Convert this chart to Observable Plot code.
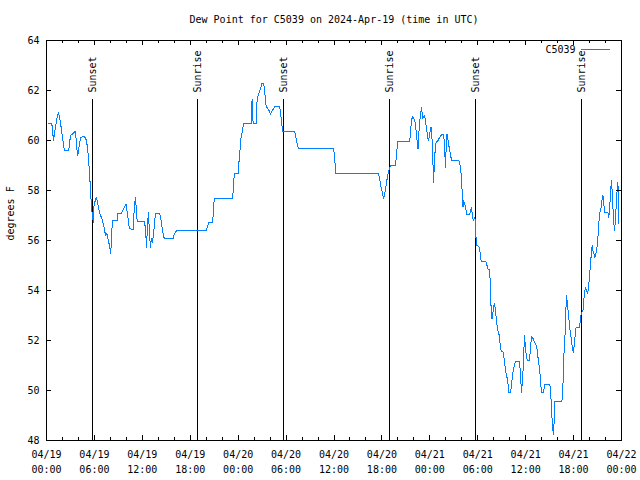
<!DOCTYPE html>
<html>
<head>
<meta charset="utf-8">
<script src="https://cdn.jsdelivr.net/npm/d3@7"></script>
<script src="https://cdn.jsdelivr.net/npm/@observablehq/plot@0.6"></script>
<style>
  html, body { margin: 0; padding: 0; background: white; }
</style>
</head>
<body>
<div id="chart"></div>
<script>
const title = "Dew Point for C5039 on 2024-Apr-19 (time in UTC)";
const yLabel = "degrees F";
const seriesName = "C5039";
const startUTC = Date.UTC(2024, 3, 19, 0, 0);

// hours since 2024-04-19 00:00 UTC
const hours = [0.25,0.66,0.88,1.06,1.25,1.50,1.75,1.91,2.09,2.25,2.79,3.00,3.29,3.63,3.79,3.92,4.26,4.76,5.01,5.17,5.29,5.42,5.51,5.63,5.76,5.85,5.92,6.10,6.26,6.42,6.60,6.76,6.92,7.10,7.26,7.38,7.55,7.67,7.88,8.05,8.17,8.30,8.85,8.89,9.42,9.76,9.96,10.16,10.37,10.85,11.01,11.14,11.26,11.35,12.29,12.43,12.52,12.68,12.77,12.89,13.02,13.14,13.27,13.43,13.64,14.18,14.36,14.52,14.68,14.81,15.86,16.02,16.27,19.99,20.11,20.31,20.81,20.94,21.06,23.32,23.44,23.56,24.06,24.11,24.24,24.37,24.49,24.69,25.62,25.66,25.78,25.87,26.28,26.37,26.57,26.78,26.99,27.19,27.37,27.50,27.87,28.04,28.29,28.57,29.20,29.32,29.45,29.57,31.08,31.38,31.54,35.96,36.08,36.21,41.59,41.71,41.89,42.05,42.22,42.39,42.55,42.72,42.89,43.05,43.68,43.80,43.97,45.47,45.56,45.68,45.81,45.97,46.15,46.27,46.52,46.65,46.81,46.97,47.10,47.35,47.47,47.60,47.72,47.85,47.97,48.15,48.27,48.40,48.47,48.60,48.72,49.02,49.22,49.52,49.72,49.81,49.90,49.97,50.06,50.15,50.35,50.48,50.60,50.73,51.65,51.78,51.90,51.98,52.07,52.15,52.23,52.35,52.48,52.60,52.98,53.10,53.23,53.35,53.48,53.60,53.73,53.78,53.85,54.10,54.23,54.32,54.44,55.03,55.16,55.32,55.48,55.57,55.66,55.78,55.91,56.07,56.20,56.32,56.45,56.57,56.70,56.82,56.95,57.16,57.28,57.41,57.53,57.66,57.78,57.91,58.11,58.24,58.41,58.57,58.74,59.24,59.36,59.49,59.57,59.66,59.79,59.86,59.95,60.08,60.20,60.49,60.61,60.74,60.91,61.08,61.24,61.41,61.54,61.66,61.79,61.91,61.99,62.24,62.37,63.04,63.17,63.24,63.33,63.42,63.49,63.58,63.67,64.54,64.67,64.74,64.87,64.96,65.04,65.12,65.21,65.33,65.46,65.58,65.71,65.83,65.96,66.08,66.21,66.30,66.71,66.83,66.92,67.05,67.17,67.25,67.37,67.50,67.62,67.75,67.87,68.00,68.12,68.25,68.33,68.42,68.55,68.67,68.80,68.92,69.05,69.17,69.30,69.43,69.55,69.68,69.80,69.88,70.30,70.38,70.50,70.63,70.76,70.88,71.01,71.13,71.26,71.38,71.47,71.55,71.63,71.68];

// dew point, degrees F
const dewPoint = [60.7,60.7,60.0,60.4,60.8,61.13,60.73,60.33,59.93,59.6,59.6,60.2,60.27,60.37,59.67,59.4,60.13,60.16,60.0,59.6,59.13,58.53,58.0,57.33,57.0,56.73,57.33,57.6,57.73,57.47,57.2,57.0,56.9,56.67,56.47,56.2,56.3,56.13,55.8,55.47,56.4,56.8,56.8,57.1,57.1,57.33,57.44,57.0,56.47,56.44,57.4,57.73,57.2,56.76,56.76,56.27,55.73,56.8,57.1,56.3,55.73,56.1,55.9,56.33,57.07,57.07,56.8,56.4,56.13,56.07,56.07,56.27,56.39,56.39,56.5,56.71,56.71,57.47,57.67,57.67,58.4,58.67,58.67,59.2,59.67,60.13,60.33,60.67,60.67,61.47,61.63,60.67,60.67,61.67,61.87,62.07,62.29,62.29,61.8,61.37,61.2,61.04,61.2,61.36,61.36,61.07,60.67,60.36,60.36,59.87,59.68,59.68,59.33,58.67,58.67,58.47,58.13,57.91,57.69,57.93,58.27,58.6,58.84,58.99,58.99,59.33,59.95,59.95,60.2,60.73,60.95,60.9,60.73,60.4,59.67,60.4,61.0,61.33,60.87,61.0,60.73,60.47,60.13,60.0,60.27,60.53,60.07,59.0,58.33,59.27,59.89,60.0,60.13,60.24,60.24,59.93,59.33,58.93,59.9,60.27,59.87,59.6,59.4,59.2,59.2,59.0,58.73,58.4,57.8,57.33,57.6,57.47,57.33,57.03,57.03,57.2,57.33,56.93,56.8,56.9,56.8,56.13,55.8,55.77,55.67,55.47,55.16,55.16,55.0,54.83,54.83,54.33,53.4,52.87,53.13,53.47,53.3,52.87,52.53,52.33,52.2,51.8,51.56,51.56,51.33,51.0,50.73,50.53,50.27,49.91,49.91,50.27,50.73,51.0,51.17,51.17,50.53,49.93,50.3,50.73,51.73,52.2,51.8,51.4,51.2,51.2,51.73,52.17,52.09,51.97,51.87,51.67,51.33,51.07,50.67,50.2,49.91,49.91,50.23,50.23,49.67,49.2,48.73,48.4,48.24,48.87,49.56,49.56,50.2,51.2,51.8,52.43,53.27,53.8,53.53,53.13,52.73,52.33,52.07,51.73,51.53,51.8,52.24,52.51,52.51,52.73,53.0,53.13,53.2,53.47,53.93,54.13,54.0,53.87,54.13,54.57,55.09,55.57,55.8,55.6,55.47,55.33,55.5,55.67,56.13,56.73,57.13,57.27,57.6,57.8,57.4,57.13,57.13,56.93,57.13,58.0,58.4,57.6,56.8,56.4,56.9,57.73,58.07,58.33,57.53,56.67];

// sun events (UTC)
const sunTimes = ["2024-04-19T05:48Z","2024-04-19T18:56Z","2024-04-20T05:42Z","2024-04-20T18:58Z","2024-04-21T05:44Z","2024-04-21T19:00Z"];
const sunLabels = ["Sunset","Sunrise","Sunset","Sunrise","Sunset","Sunrise"];

// axes
const xDomain = ["2024-04-19T00:00Z","2024-04-22T00:00Z"];
const yTicks = [48,50,52,54,56,58,60,62,64];
const xMajorTicks = ["2024-04-19T00:00Z","2024-04-19T06:00Z","2024-04-19T12:00Z","2024-04-19T18:00Z","2024-04-20T00:00Z","2024-04-20T06:00Z","2024-04-20T12:00Z","2024-04-20T18:00Z","2024-04-21T00:00Z","2024-04-21T06:00Z","2024-04-21T12:00Z","2024-04-21T18:00Z","2024-04-22T00:00Z"];
const xDateLabels = ["04/19","04/19","04/19","04/19","04/20","04/20","04/20","04/20","04/21","04/21","04/21","04/21","04/22"];
const xTimeLabels = ["00:00","06:00","12:00","18:00","00:00","06:00","12:00","18:00","00:00","06:00","12:00","18:00","00:00"];
const minorStepHours = 2;

const data = hours.map((h, i) => ({t: new Date(startUTC + h * 3600e3), v: dewPoint[i]}));
const sun = sunTimes.map((s, i) => ({t: new Date(s), label: sunLabels[i]}));
const majors = xMajorTicks.map((s, i) => ({t: new Date(s), d: xDateLabels[i], h: xTimeLabels[i]}));
const minors = d3.range(0, 72 + 1e-9, minorStepHours)
  .map(h => new Date(startUTC + h * 3600e3))
  .filter((d) => d.getUTCHours() % 6 !== 0);

const W = 640, H = 480, mL = 46, mR = 19, mT = 40, mB = 40;
const plotH = H - mT - mB, plotW = W - mL - mR;
const font = "DejaVu Sans Mono";
const major = 5, minor = 3;
const blue = "#0080ff";
const crisp = {shapeRendering: "crispEdges"};

const chart = Plot.plot({
  width: W, height: H,
  marginLeft: mL, marginRight: mR, marginTop: mT, marginBottom: mB,
  style: {fontFamily: font, fontSize: "10px", background: "white", color: "black"},
  x: {type: "utc", domain: xDomain.map(s => new Date(s)), axis: null},
  y: {domain: [48, 64], axis: null},
  marks: [
    // sunrise / sunset lines and labels
    Plot.ruleX(sun, {x: "t", stroke: "black", strokeWidth: 1, insetTop: 59, ...crisp}),
    Plot.text(sun, {x: "t", text: "label", frameAnchor: "top", dy: 52, rotate: -90, textAnchor: "start", lineAnchor: "middle", fill: "black"}),
    // data
    Plot.line(data, {x: "t", y: "v", stroke: blue, strokeWidth: 1, ...crisp}),
    // frame
    Plot.frame({stroke: "black", strokeWidth: 1, ...crisp}),
    // y ticks (left and right, inward)
    Plot.ruleY(yTicks, {stroke: "black", insetRight: plotW - major, ...crisp}),
    Plot.ruleY(yTicks, {stroke: "black", insetLeft: plotW - major, ...crisp}),
    Plot.text(yTicks, {y: d => d, text: d => String(d), frameAnchor: "left", dx: -7, textAnchor: "end", lineAnchor: "middle", fill: "black"}),
    // x ticks (bottom and top, inward)
    Plot.ruleX(majors, {x: "t", stroke: "black", insetTop: plotH - major, ...crisp}),
    Plot.ruleX(majors, {x: "t", stroke: "black", insetBottom: plotH - major, ...crisp}),
    Plot.ruleX(minors, {x: d => d, stroke: "black", insetTop: plotH - minor, ...crisp}),
    Plot.ruleX(minors, {x: d => d, stroke: "black", insetBottom: plotH - minor, ...crisp}),
    Plot.text(majors, {x: "t", text: "d", frameAnchor: "bottom", dy: 14, lineAnchor: "middle", fill: "black"}),
    Plot.text(majors, {x: "t", text: "h", frameAnchor: "bottom", dy: 29, lineAnchor: "middle", fill: "black"}),
    // titles
    Plot.text([title], {text: d => d, frameAnchor: "top", dy: -21, lineAnchor: "middle", fill: "black"}),
    Plot.text([yLabel], {text: d => d, frameAnchor: "left", dx: -36, rotate: -90, lineAnchor: "middle", fill: "black"}),
    Plot.text([seriesName], {text: d => d, frameAnchor: "top-right", dx: -46, dy: 9, textAnchor: "end", lineAnchor: "middle", fill: "black"})
  ]
});

// legend sample line next to the series name
const svg = d3.select(chart);
svg.append("line")
  .attr("x1", W - mR - 40).attr("x2", W - mR - 11)
  .attr("y1", mT + 9.5).attr("y2", mT + 9.5)
  .attr("stroke", blue).attr("stroke-width", 1)
  .attr("shape-rendering", "crispEdges");

document.getElementById("chart").appendChild(chart);
</script>
</body>
</html>
